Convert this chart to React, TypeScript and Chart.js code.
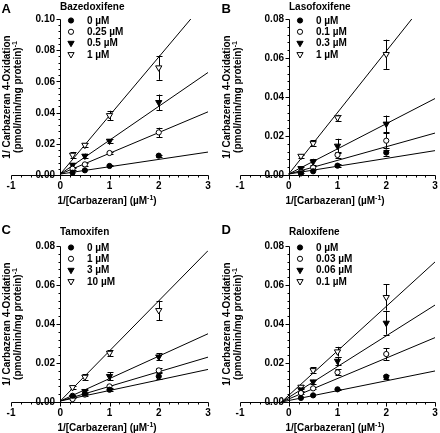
import React, { useEffect, useRef } from 'react';
import { Chart, registerables } from 'chart.js';

Chart.register(...registerables);

// ---------- data ----------
const substrateInv = [0.25, 0.5, 1, 2]; // 1/[Carbazeran] (µM^-1)
const xTickLabels = ['-1', '0', '1', '2', '3'];
const yTickLabelsA = ['0.00', '0.02', '0.04', '0.06', '0.08', '0.10'];
const yTickLabelsBCD = ['0.00', '0.02', '0.04', '0.06', '0.08'];

// A: Bazedoxifene
const bazedoxifeneLegend = ['0 µM', '0.25 µM', '0.5 µM', '1 µM'];
const baz0 = [0.0015, 0.003, 0.0058, 0.0124];
const baz1 = [0.004, 0.0068, 0.0141, 0.0273];
const baz2 = [0.0064, 0.0122, 0.0218, 0.0466];
const baz3 = [0.0128, 0.0192, 0.0382, 0.0688];
const bazErr0 = [0, 0, 0.0003, 0.0006];
const bazErr1 = [0.0005, 0.0008, 0.0008, 0.003];
const bazErr2 = [0.001, 0.0015, 0.001, 0.005];
const bazErr3 = [0.002, 0.001, 0.003, 0.0078];
const bazSlopes = [0.0047, 0.0133, 0.0217, 0.0375];
const bazIntercepts = [0.0006, 0.0006, 0.0006, 0.0006];

// B: Lasofoxifene
const lasofoxifeneLegend = ['0 µM', '0.1 µM', '0.3 µM', '1 µM'];
const laso0 = [0.0008, 0.0019, 0.0048, 0.0115];
const laso1 = [0.0014, 0.0038, 0.0103, 0.0176];
const laso2 = [0.0034, 0.0068, 0.0149, 0.0262];
const laso3 = [0.0097, 0.0162, 0.0294, 0.0619];
const lasoErr0 = [0, 0, 0.0008, 0.0015];
const lasoErr1 = [0.0005, 0.001, 0.0015, 0.004];
const lasoErr2 = [0.0008, 0.0015, 0.0037, 0.0043];
const lasoErr3 = [0.0008, 0.0015, 0.0015, 0.0075];
const lasoSlopes = [0.004, 0.007, 0.0129, 0.0315];
const lasoIntercepts = [0.0005, 0.0005, 0.0005, 0.0005];

// C: Tamoxifen
const tamoxifenLegend = ['0 µM', '1 µM', '3 µM', '10 µM'];
const tam0 = [0.0032, 0.0043, 0.0063, 0.0132];
const tam1 = [0.0015, 0.0038, 0.008, 0.0162];
const tam2 = [0.0024, 0.0055, 0.0132, 0.0232];
const tam3 = [0.0075, 0.0128, 0.0251, 0.047];
const tamErr0 = [0, 0, 0.0005, 0.0015];
const tamErr1 = [0, 0.0005, 0.0008, 0.001];
const tamErr2 = [0.0005, 0.0008, 0.002, 0.0017];
const tamErr3 = [0.0008, 0.0015, 0.0015, 0.005];
const tamSlopes = [0.0054, 0.0075, 0.0115, 0.0257];
const tamIntercepts = [0.0005, 0.0005, 0.0005, 0.0005];

// D: Raloxifene
const raloxifeneLegend = ['0 µM', '0.03 µM', '0.06 µM', '0.1 µM'];
const ral0 = [0.0021, 0.0034, 0.0065, 0.013];
const ral1 = [0.0046, 0.007, 0.0152, 0.0246];
const ral2 = [0.0063, 0.0104, 0.021, 0.0405];
const ral3 = [0.0077, 0.0162, 0.0258, 0.0537];
const ralErr0 = [0, 0, 0.0003, 0.001];
const ralErr1 = [0.0005, 0.0005, 0.0015, 0.003];
const ralErr2 = [0.0008, 0.001, 0.002, 0.006];
const ralErr3 = [0.0008, 0.0015, 0.0025, 0.0068];
const ralSlopes = [0.00505, 0.01048, 0.01578, 0.0228];
const ralIntercepts = [0.00076, 0.00157, 0.00237, 0.00342];

// ---------- styling / layout ----------
const FONT = '"Liberation Sans", Arial, Helvetica, sans-serif';

type Panel = {
  letter: string;
  title: string;
  legend: string[];
  values: number[][];
  errors: number[][];
  slopes: number[];
  intercepts: number[];
  lineStart: number;
  yMax: number;
  yTicks: string[];
  box: { x: number; y: number; w: number; h: number };
  pad: { left: number; right: number; top: number; bottom: number };
  letterY: number;
  titleY: number;
};

const topRow = { letterY: 12.5, titleY: 9.5 };
const bottomRow = { letterY: 17.5, titleY: 18.5 };

const panels: Panel[] = [
  {
    letter: 'A', title: 'Bazedoxifene', legend: bazedoxifeneLegend,
    values: [baz0, baz1, baz2, baz3], errors: [bazErr0, bazErr1, bazErr2, bazErr3],
    slopes: bazSlopes, intercepts: bazIntercepts, lineStart: 0, yMax: 0.1, yTicks: yTickLabelsA,
    box: { x: 0, y: 0, w: 220, h: 216 }, pad: { left: 11, right: 12, top: 19, bottom: 41 }, ...topRow,
  },
  {
    letter: 'B', title: 'Lasofoxifene', legend: lasofoxifeneLegend,
    values: [laso0, laso1, laso2, laso3], errors: [lasoErr0, lasoErr1, lasoErr2, lasoErr3],
    slopes: lasoSlopes, intercepts: lasoIntercepts, lineStart: 0, yMax: 0.08, yTicks: yTickLabelsBCD,
    box: { x: 220, y: 0, w: 220, h: 216 }, pad: { left: 20, right: 3, top: 19, bottom: 41 }, ...topRow,
  },
  {
    letter: 'C', title: 'Tamoxifen', legend: tamoxifenLegend,
    values: [tam0, tam1, tam2, tam3], errors: [tamErr0, tamErr1, tamErr2, tamErr3],
    slopes: tamSlopes, intercepts: tamIntercepts, lineStart: 0, yMax: 0.08, yTicks: yTickLabelsBCD,
    box: { x: 0, y: 216, w: 220, h: 217 }, pad: { left: 11, right: 12, top: 30, bottom: 31 }, ...bottomRow,
  },
  {
    letter: 'D', title: 'Raloxifene', legend: raloxifeneLegend,
    values: [ral0, ral1, ral2, ral3], errors: [ralErr0, ralErr1, ralErr2, ralErr3],
    slopes: ralSlopes, intercepts: ralIntercepts, lineStart: -0.15, yMax: 0.08, yTicks: yTickLabelsBCD,
    box: { x: 220, y: 216, w: 220, h: 217 }, pad: { left: 20, right: 3, top: 30, bottom: 31 }, ...bottomRow,
  },
];

const CIRCLE_R = 2.6;
const TRI_R = 3.6;

function drawMarker(ctx: CanvasRenderingContext2D, kind: number, x: number, y: number) {
  ctx.save();
  ctx.lineWidth = 1;
  ctx.strokeStyle = '#000';
  ctx.fillStyle = kind % 2 === 0 ? '#000' : '#fff';
  ctx.beginPath();
  if (kind < 2) {
    ctx.arc(x, y, CIRCLE_R, 0, Math.PI * 2);
  } else {
    let rad = Math.PI;
    ctx.moveTo(x + Math.sin(rad) * TRI_R, y - Math.cos(rad) * TRI_R);
    rad += (2 * Math.PI) / 3;
    ctx.lineTo(x + Math.sin(rad) * TRI_R, y - Math.cos(rad) * TRI_R);
    rad += (2 * Math.PI) / 3;
    ctx.lineTo(x + Math.sin(rad) * TRI_R, y - Math.cos(rad) * TRI_R);
    ctx.closePath();
  }
  ctx.fill();
  ctx.stroke();
  ctx.restore();
}

// draws main + superscript + tail, centred at (cx, baseline)
function drawSupText(ctx: CanvasRenderingContext2D, main: string, sup: string, tail: string, cx: number, by: number) {
  const mainFont = `bold 10px ${FONT}`;
  const supFont = `bold 7px ${FONT}`;
  ctx.font = mainFont;
  const wMain = ctx.measureText(main).width;
  const wTail = ctx.measureText(tail).width;
  ctx.font = supFont;
  const wSup = ctx.measureText(sup).width;
  const total = wMain + wSup + wTail;
  let x = cx - total / 2;
  ctx.textAlign = 'left';
  ctx.textBaseline = 'alphabetic';
  ctx.font = mainFont;
  ctx.fillText(main, x, by);
  x += wMain;
  ctx.font = supFont;
  ctx.fillText(sup, x, by - 4);
  x += wSup;
  ctx.font = mainFont;
  ctx.fillText(tail, x, by);
}

function makePlugin(p: Panel) {
  return {
    id: 'panelDecor' + p.letter,
    beforeDatasetsDraw(chart: any) {
      const { ctx, scales } = chart;
      const xs = scales.x;
      const ys = scales.y;
      const px = (v: number) => Math.round(xs.getPixelForValue(v)) + 0.5;
      const py = (v: number) => Math.round(ys.getPixelForValue(v)) + 0.5;
      const x0 = px(0);
      const y0 = py(0);
      ctx.save();
      ctx.strokeStyle = '#000';
      ctx.lineWidth = 1;
      ctx.beginPath();
      // x axis with ticks every 0.2, long at integers
      ctx.moveTo(px(-1), y0);
      ctx.lineTo(px(3), y0);
      for (let i = 0; i <= 20; i++) {
        const v = -1 + i * 0.2;
        const len = i % 5 === 0 ? 4 : 2;
        ctx.moveTo(px(v), y0);
        ctx.lineTo(px(v), y0 + len);
      }
      // y axis with ticks every 0.004, long every 0.02
      ctx.moveTo(x0, y0);
      ctx.lineTo(x0, py(p.yMax));
      const n = Math.round(p.yMax / 0.004);
      for (let i = 0; i <= n; i++) {
        const v = i * 0.004;
        const len = i % 5 === 0 ? 4 : 2;
        ctx.moveTo(x0, py(v));
        ctx.lineTo(x0 - len, py(v));
      }
      ctx.stroke();

      // error bars
      ctx.beginPath();
      p.values.forEach((vals, i) => {
        vals.forEach((v, j) => {
          const e = p.errors[i][j];
          if (!e) return;
          const cx = px(substrateInv[j]);
          const yt = ys.getPixelForValue(v + e);
          const yb = ys.getPixelForValue(Math.max(0, v - e));
          ctx.moveTo(cx, yt);
          ctx.lineTo(cx, yb);
          ctx.moveTo(cx - 3, Math.round(yt) + 0.5);
          ctx.lineTo(cx + 3, Math.round(yt) + 0.5);
          ctx.moveTo(cx - 3, Math.round(yb) + 0.5);
          ctx.lineTo(cx + 3, Math.round(yb) + 0.5);
        });
      });
      ctx.stroke();
      ctx.restore();
    },
    afterDatasetsDraw(chart: any) {
      const { ctx, scales, chartArea } = chart;
      const xs = scales.x;
      const ys = scales.y;
      const x0 = Math.round(xs.getPixelForValue(0)) + 0.5;
      const y0 = Math.round(ys.getPixelForValue(0)) + 0.5;
      ctx.save();
      ctx.fillStyle = '#000';
      ctx.font = `bold 10px ${FONT}`;

      // x tick labels
      ctx.textAlign = 'center';
      ctx.textBaseline = 'alphabetic';
      xTickLabels.forEach((lab) => {
        ctx.fillText(lab, xs.getPixelForValue(Number(lab)), y0 + 13.5);
      });
      // y tick labels
      ctx.textAlign = 'right';
      ctx.textBaseline = 'middle';
      p.yTicks.forEach((lab) => {
        ctx.fillText(lab, x0 - 5.5, ys.getPixelForValue(Number(lab)) + 0.5);
      });

      // x axis title
      const cx = (chartArea.left + chartArea.right) / 2 - 2.5;
      drawSupText(ctx, '1/[Carbazeran] (µM', '-1', ')', cx, y0 + 28.5);

      // y axis title (rotated)
      const cy = (chartArea.top + chartArea.bottom) / 2;
      ctx.save();
      ctx.translate(10, cy);
      ctx.rotate(-Math.PI / 2);
      ctx.font = `bold 10px ${FONT}`;
      ctx.textAlign = 'center';
      ctx.textBaseline = 'alphabetic';
      ctx.fillText('1/ Carbazeran 4-Oxidation', 0, 0);
      ctx.restore();
      ctx.save();
      ctx.translate(21, cy);
      ctx.rotate(-Math.PI / 2);
      drawSupText(ctx, '(pmol/min/mg protein)', '-1', '', 0, 0);
      ctx.restore();

      // panel letter & title
      ctx.textAlign = 'left';
      ctx.textBaseline = 'alphabetic';
      ctx.font = `bold 13px ${FONT}`;
      ctx.fillText(p.letter, 1.5, p.letterY);
      ctx.font = `bold 10px ${FONT}`;
      ctx.fillText(p.title, x0 - 0.5, p.titleY);

      // legend
      ctx.textBaseline = 'middle';
      p.legend.forEach((lab, i) => {
        const ly = chartArea.top + 1.5 + i * 11.3;
        drawMarker(ctx, i, x0 + 10.5, ly);
        ctx.fillStyle = '#000';
        ctx.font = `bold 10px ${FONT}`;
        ctx.fillText(lab, x0 + 26.5, ly + 0.5);
      });
      ctx.restore();
    },
  };
}

function buildConfig(p: Panel): any {
  const datasets: any[] = [];
  p.values.forEach((vals, i) => {
    datasets.push({
      label: p.legend[i],
      data: substrateInv.map((x, j) => ({ x, y: vals[j] })),
      pointStyle: i < 2 ? 'circle' : 'triangle',
      pointRotation: i < 2 ? 0 : 180,
      pointRadius: i < 2 ? CIRCLE_R : TRI_R,
      pointBackgroundColor: i % 2 === 0 ? '#000' : '#fff',
      pointBorderColor: '#000',
      pointBorderWidth: 1,
      showLine: false,
      clip: false,
      order: 0,
    });
  });
  p.slopes.forEach((m, i) => {
    const b = p.intercepts[i];
    datasets.push({
      label: 'fit ' + p.legend[i],
      data: [p.lineStart, 3].map((x) => ({ x, y: m * x + b })),
      showLine: true,
      borderColor: '#000',
      borderWidth: 1,
      pointRadius: 0,
      order: 1,
    });
  });
  return {
    type: 'scatter',
    data: { datasets },
    options: {
      animation: false,
      responsive: false,
      devicePixelRatio: 1,
      events: [],
      layout: { padding: p.pad },
      scales: {
        x: { type: 'linear', min: -1, max: 3, display: false },
        y: { type: 'linear', min: 0, max: p.yMax, display: false },
      },
      plugins: { legend: { display: false }, tooltip: { enabled: false }, title: { display: false } },
    },
    plugins: [makePlugin(p)],
  };
}

function PanelChart({ p }: { p: Panel }) {
  const ref = useRef<HTMLCanvasElement | null>(null);
  useEffect(() => {
    if (!ref.current) return;
    const chart = new Chart(ref.current, buildConfig(p));
    return () => chart.destroy();
  }, [p]);
  return (
    <canvas
      ref={ref}
      width={p.box.w}
      height={p.box.h}
      style={{ position: 'absolute', left: p.box.x, top: p.box.y, width: p.box.w, height: p.box.h }}
    />
  );
}

export default function App() {
  return (
    <div style={{ position: 'absolute', left: 0, top: 0, width: 440, height: 433, background: '#fff' }}>
      {panels.map((p) => (
        <PanelChart key={p.letter} p={p} />
      ))}
    </div>
  );
}
